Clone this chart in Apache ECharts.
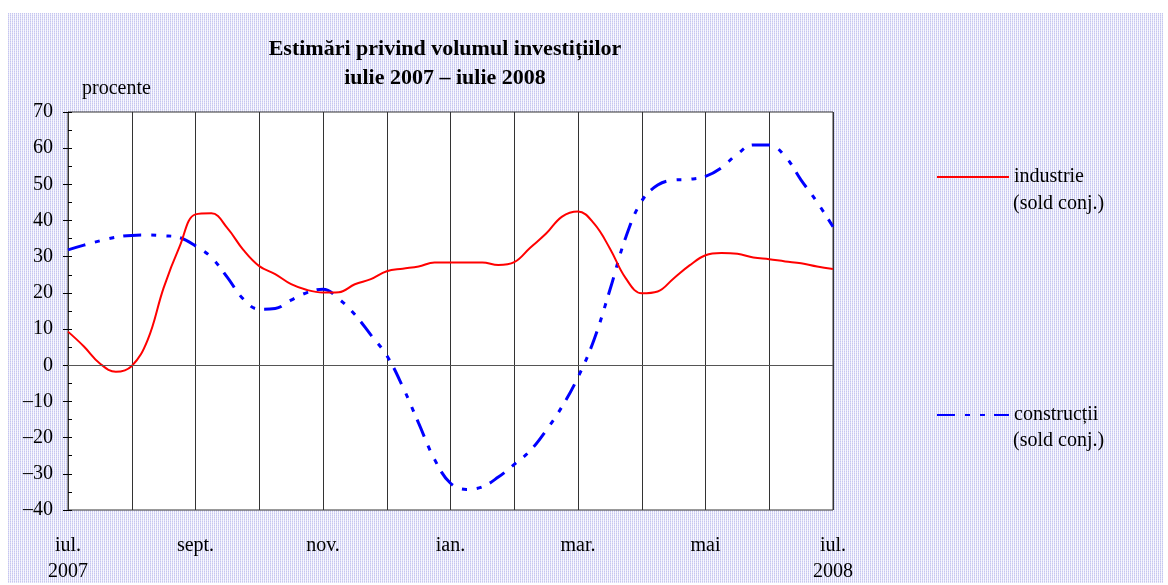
<!DOCTYPE html>
<html>
<head>
<meta charset="utf-8">
<script src="https://cdn.jsdelivr.net/npm/echarts@6/dist/echarts.min.js"></script>
<style>
  html, body { margin: 0; padding: 0; background: #fff; }
  #bg {
    position: absolute; left: 8px; top: 13px; width: 1155px; height: 570px;
    background:
      repeating-linear-gradient(0deg, rgba(255,255,255,0.35) 0 1px, transparent 1px 2px),
      repeating-linear-gradient(90deg, #c6c6f0 0 1px, #f6f6fd 1px 2px);
  }
  #main { position: absolute; left: 0; top: 0; width: 1168px; height: 585px; }
</style>
</head>
<body>
<div id="bg"></div>
<div id="main"></div>
<script>
// month names on the x axis (one split line per month, labels every 2 months)
const months = ["iul.", "aug.", "sept.", "oct.", "nov.", "dec.", "ian.", "feb.", "mar.", "apr.", "mai", "iun.", "iul."];
const years = ["2007", "", "", "", "", "", "", "", "", "", "", "", "2008"];
// readings taken every quarter of a month, iul. 2007 .. iul. 2008
const industrie = [
  9.3, 5.2, 0.5, -1.8, -0.2, 7.0, 21.4, 32.8,
  41.7, 42.0, 37.9, 31.9, 27.4, 25.2, 22.4, 20.8,
  20.1, 20.2, 22.4, 23.8, 26.0, 26.7, 27.3, 28.4,
  28.4, 28.4, 28.4, 27.7, 28.5, 32.5, 36.4, 41.1,
  42.5, 39.2, 32.3, 24.0, 19.9, 20.4, 24.0, 27.6,
  30.4, 31.0, 30.8, 29.8, 29.3, 28.7, 28.2, 27.3,
  26.6
];
const constructii = [
  31.9, 33.2, 34.4, 35.4, 35.9, 36.0, 35.8, 35.3,
  33.0, 29.8, 24.3, 18.3, 15.5, 15.7, 18.0, 20.1,
  21.0, 18.3, 14.0, 8.4, 2.7, -5.9, -16.0, -26.0,
  -32.6, -34.3, -33.6, -30.9, -27.4, -23.6, -18.0, -11.4,
  -3.3, 7.0, 20.8, 35.4, 45.4, 49.8, 51.2, 51.4,
  52.2, 54.6, 58.4, 60.9, 60.9, 57.7, 51.2, 45.1,
  38.3
];

const categories = [];
months.forEach((m, i) => {
  categories.push(years[i] ? m + "\n" + years[i] : m);
  if (i < months.length - 1) {
    for (let q = 1; q < 4; q++) categories.push(m + " +" + q + "/4");
  }
});

const serif = "'Liberation Serif', 'Times New Roman', serif";
const chart = echarts.init(document.getElementById("main"), null, { renderer: "canvas" });

const legendBase = {
  left: 936, padding: 0,
  itemWidth: 72, itemHeight: 14, itemGap: 0,
  itemStyle: { opacity: 0 },
  textStyle: { fontFamily: serif, fontSize: 20, lineHeight: 24, color: "#000" }
};

const option = {
  backgroundColor: "transparent",
  animation: false,
  title: {
    text: "Estimări privind volumul investițiilor\niulie 2007 – iulie 2008",
    left: 440,
    top: 30,
    textAlign: "center",
    textStyle: { fontFamily: serif, fontWeight: "bold", fontSize: 22, lineHeight: 29, color: "#000" }
  },
  legend: [
    Object.assign({}, legendBase, { data: ["industrie"], top: 165 }),
    Object.assign({}, legendBase, { data: ["construcții"], top: 403 })
  ],
  graphic: [
    { type: "text", style: { x: 82, y: 89, text: "procente", font: "20px " + serif, fill: "#000", verticalAlign: "middle" } },
    { type: "text", style: { x: 1013, y: 204, text: "(sold conj.)", font: "20px " + serif, fill: "#000", verticalAlign: "middle" } },
    { type: "text", style: { x: 1013, y: 441, text: "(sold conj.)", font: "20px " + serif, fill: "#000", verticalAlign: "middle" } }
  ],
  grid: {
    left: 68, right: 335, top: 112, bottom: 75,
    show: true, backgroundColor: "#fff", borderColor: "#333", borderWidth: 1
  },
  xAxis: {
    type: "category",
    data: categories,
    boundaryGap: false,
    axisLine: { show: true, lineStyle: { color: "#333", width: 1 } },
    axisTick: { show: false },
    splitLine: { show: true, interval: 3, lineStyle: { color: "#333", width: 1 } },
    axisLabel: {
      interval: 7,
      margin: 23,
      fontFamily: serif, fontSize: 20, lineHeight: 26, color: "#000"
    }
  },
  yAxis: [
    {
      type: "value",
      min: -40, max: 70, interval: 10,
      axisLine: { show: true, lineStyle: { color: "#333" } },
      axisTick: { show: true, length: 5, lineStyle: { color: "#000" } },
      splitLine: { show: false },
      axisLabel: {
        margin: 15,
        fontFamily: serif, fontSize: 20, color: "#000",
        formatter: v => (v < 0 ? "–" + Math.abs(v) : String(v))
      }
    },
    {
      type: "value",
      position: "left",
      min: -40, max: 70, interval: 5,
      axisLine: { show: false },
      axisTick: { show: true, inside: true, length: 4, lineStyle: { color: "#000" } },
      axisLabel: { show: false },
      splitLine: { show: false }
    }
  ],
  series: [
    {
      name: "industrie",
      type: "line",
      data: industrie,
      smooth: 0.4,
      symbol: "none",
      lineStyle: { color: "#ff0000", width: 2 },
      itemStyle: { color: "#ff0000" },
      markLine: {
        silent: true,
        symbol: "none",
        label: { show: false },
        lineStyle: { color: "#555", type: "solid", width: 1 },
        data: [{ yAxis: 0 }]
      },
      z: 3
    },
    {
      name: "construcții",
      type: "line",
      data: constructii,
      smooth: 0.4,
      symbol: "none",
      lineStyle: { color: "#0000ff", width: 3, type: [18, 10, 5, 10, 5, 9] },
      itemStyle: { color: "#0000ff" },
      z: 2
    }
  ]
};

chart.setOption(option);
</script>
</body>
</html>
